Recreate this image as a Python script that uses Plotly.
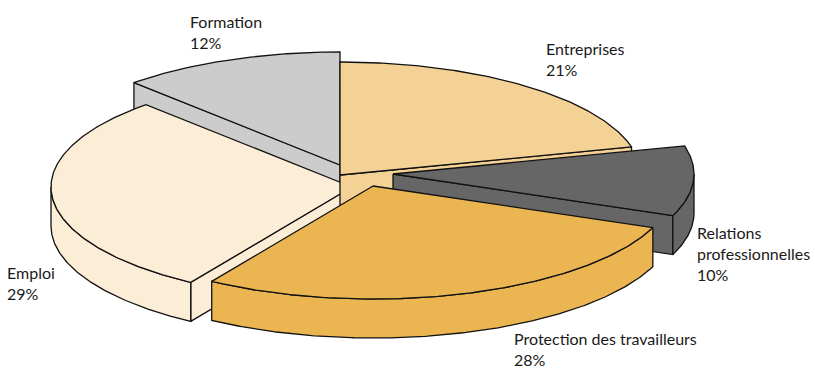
import numpy as np
import plotly.graph_objects as go

categories = ["Entreprises", "Relations professionnelles", "Protection des travailleurs", "Emploi", "Formation"]
shares = [21, 10, 28, 29, 12]

label_text = ["Entreprises<br>21%", "Relations<br>professionnelles<br>10%", "Protection des travailleurs<br>28%", "Emploi<br>29%", "Formation<br>12%"]

# geometry of the tilted pie
colors = ["#F4D295", "#666666", "#EBB552", "#FCEDD6", "#CCCCCC"]
centers = [(340, 175), (393, 174), (373, 186), (352, 187), (340, 165)]
label_pos = [(544, 37), (695, 221), (512, 326.5), (5, 261), (188, 10)]
RX, RY, DEPTH = 301, 113, 39
draw_order = [4, 3, 0, 1, 2]
LINE = dict(color="#111111", width=1.3)


def rim(c, a0, a1, dy=0):
    t = np.radians(np.linspace(a0, a1, max(int(abs(a1 - a0) * 2), 2)))
    return c[0] + RX * np.sin(t), c[1] - RY * np.cos(t) + dy


# slice boundaries in degrees, clockwise from the top
bounds = np.concatenate([[0], np.cumsum(shares)]) * 360 / sum(shares)
fig = go.Figure()


def poly(xs, ys, color):
    fig.add_trace(go.Scatter(x=list(xs) + [xs[0]], y=list(ys) + [ys[0]], mode="lines", fill="toself",
                             fillcolor=color, line=LINE, hoverinfo="skip", showlegend=False))


def radial_face(c, a, color):
    x, y = rim(c, a, a + 1e-6)
    x, y = x[0], y[0]
    poly([c[0], x, x, c[0]], [c[1], y, y + DEPTH, c[1] + DEPTH], color)


def outer_wall(c, a0, a1, color):
    x, y = rim(c, a0, a1)
    xb, yb = rim(c, a1, a0, DEPTH)
    poly(np.concatenate([x, xb]), np.concatenate([y, yb]), color)


for i in draw_order:
    a0, a1 = bounds[i], bounds[i + 1]
    c, col = centers[i], colors[i]
    # cut faces that look towards the viewer
    if a1 <= 180:
        radial_face(c, a1, col)
    if a0 >= 180:
        radial_face(c, a0, col)
    # outer wall: only the front half of the rim
    w0, w1 = max(a0, 90), min(a1, 270)
    if w1 > w0:
        outer_wall(c, w0, w1, col)
    # top
    x, y = rim(c, a0, a1)
    poly(np.concatenate([[c[0]], x]), np.concatenate([[c[1]], y]), col)

annotations = [dict(x=p[0], y=p[1], text=t, showarrow=False, xanchor="left", yanchor="top", align="left",
                    font=dict(family="Lato", size=16, color="#1a1a1a"))
               for t, p in zip(label_text, label_pos)]

fig.update_layout(
    width=815, height=368, margin=dict(l=0, r=0, t=0, b=0),
    paper_bgcolor="white", plot_bgcolor="white", showlegend=False,
    xaxis=dict(range=[0, 815], visible=False, fixedrange=True),
    yaxis=dict(range=[368, 0], visible=False, fixedrange=True),
    annotations=annotations,
)
fig.write_html("out.html", config=dict(displayModeBar=False), post_script="document.body.style.margin='0';")
